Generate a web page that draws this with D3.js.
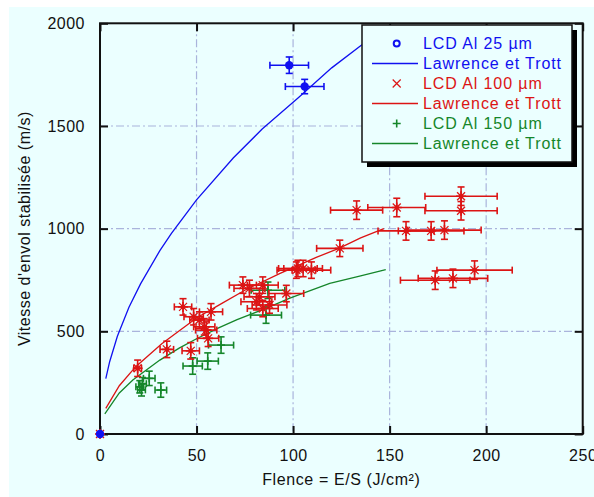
<!DOCTYPE html>
<html><head><meta charset="utf-8">
<script src="https://cdn.jsdelivr.net/npm/d3@7"></script>
<style>
body{margin:0;background:#fff}
svg{display:block}
text{font-family:"Liberation Sans",Arial,Helvetica,sans-serif}
</style>
</head><body>
<svg id="chart" width="594" height="497"></svg>
<script>
// ---- data ----
const xTicks = [0, 50, 100, 150, 200, 250];
const yTicks = [0, 500, 1000, 1500, 2000];
const xGrid = [50, 100, 150, 200];
const yGrid = [500, 1000, 1500];

// measured points: [fluence, velocity, xErr, yErr]
const bluePoints = [[0,0,0,0],[98,1796,10,40],[106,1692,10,35]];
const redPoints = [
  [0,0,0,0],[19.5,320,2,40],[34.6,412,3.5,40],[43,619,4.5,40],[47,405,4.5,40],
  [48.5,571,5,40],[51.5,555,5,40],[54,522,5.5,40],[55,506,5.5,40],[56,466,5.5,40],
  [57.5,595,6,40],[74,725,7,40],[77.4,709,8,40],[84.3,725,8,40],[81,644,8,40],
  [87.8,628,9,40],[84.3,611,8,40],[96.5,684,9,40],[82.6,668,8,40],[101.7,798,10,40],
  [102.5,806,10,40],[105.2,806,10,40],[109.5,798,10,40],[124.2,904,12,40],
  [132.9,1090,13.5,45],[153.7,1103,15,45],[187,1158,18.7,45],[187,1087,18.7,45],
  [158.5,989,14.5,45],[171.5,989,17,45],[178.4,993,19,45],
  [173.6,749,18,45],[182.8,758,18,45],[194,798,19.5,45]
];
const greenPoints = [
  [0,0,0,0],[20.6,230,2,30],[21.5,215,2,30],[22,245,2,30],[25.5,271,3,35],
  [31.5,214,3,35],[48,331,5,40],[55.8,355,5.5,40],[62.7,433,6.5,40],
  [86,579,8,40],[87,700,8.7,40]
];

// Lawrence et Trott model curves
const blueCurveX = [3,5,9,15,21,31,37,50,69,84,103,120,135,146];
const blueCurveY = [270,352,476,617,731,893,977,1140,1344,1485,1640,1783,1891,1965];
const redCurveX = [3,10,18.5,32,50,62,75,93,112,124,135,147];
const redCurveY = [125,235,328,440,565,630,700,781,860,905,955,1000];
const greenCurveX = [2.5,10,17,31,41,50,62,71,86,98,119,135,148];
const greenCurveY = [98,200,263,360,418,464,519,557,612,660,733,770,800];

const legendLabels = ["LCD Al 25 µm","Lawrence et Trott","LCD Al 100 µm","Lawrence et Trott","LCD Al 150 µm","Lawrence et Trott"];

// ---- drawing ----
const BLUE = "#1010f0", RED = "#dc1414", GREEN = "#15862a";
const svg = d3.select("#chart");
svg.append("rect").attr("x",9).attr("y",7).attr("width",585).attr("height",490).attr("fill","#ebffff");

const L = 100, R = 582.7, T = 23.3, B = 434;
const x = d3.scaleLinear().domain([0,250]).range([L,R]);
const y = d3.scaleLinear().domain([0,2000]).range([B,T]);

// grid
const gridStyle = s => s.attr("stroke","#aab4dc").attr("stroke-width",1.2).attr("stroke-dasharray","8,3,2,3");
svg.append("g").selectAll("line").data(xGrid).join("line")
  .attr("x1",d=>x(d)).attr("x2",d=>x(d)).attr("y1",T).attr("y2",B).call(gridStyle);
svg.append("g").selectAll("line").data(yGrid).join("line")
  .attr("y1",d=>y(d)).attr("y2",d=>y(d)).attr("x1",L).attr("x2",R).call(gridStyle);

// axes
const fontSize = "16px";
const gx = svg.append("g").attr("transform",`translate(0,${B})`)
  .call(d3.axisBottom(x).tickValues(xTicks).tickSize(-8).tickPadding(16).tickFormat(d3.format("d")));
const gy = svg.append("g").attr("transform",`translate(${L},0)`)
  .call(d3.axisLeft(y).tickValues(yTicks).tickSize(-8).tickPadding(15).tickFormat(d3.format("d")));
const gt = svg.append("g").attr("transform",`translate(0,${T})`)
  .call(d3.axisTop(x).tickValues(xTicks).tickSize(-8).tickFormat(""));
const gr = svg.append("g").attr("transform",`translate(${R},0)`)
  .call(d3.axisRight(y).tickValues(yTicks).tickSize(-8).tickFormat(""));
[gx,gy,gt,gr].forEach(g=>{
  g.select(".domain").remove();
  g.selectAll(".tick line").attr("stroke","#111").attr("stroke-width",2);
  g.selectAll("text").attr("font-size",fontSize).attr("fill","#111")
    .attr("font-family","'Liberation Sans',Arial,sans-serif").style("letter-spacing","0.5px");
});

// frame
svg.append("rect").attr("x",L).attr("y",T).attr("width",R-L).attr("height",B-T)
  .attr("fill","none").attr("stroke","#111").attr("stroke-width",2);

// axis titles
svg.append("text").attr("x",(L+R)/2).attr("y",485).attr("text-anchor","middle")
  .attr("font-size",fontSize).attr("fill","#111").style("letter-spacing","0.6px")
  .text("Flence = E/S (J/cm²)");
svg.append("text").attr("transform",`translate(30,${(T+B)/2}) rotate(-90)`).attr("text-anchor","middle")
  .attr("font-size",fontSize).attr("fill","#111").style("letter-spacing","0.5px")
  .text("Vitesse d'envol stabilisée (m/s)");

// curves
const line = d3.line().x(d=>x(d[0])).y(d=>y(d[1]));
function drawCurve(xs, ys, color){
  svg.append("path").datum(xs.map((v,i)=>[v,ys[i]])).attr("d",line)
    .attr("fill","none").attr("stroke",color).attr("stroke-width",1.3);
}
drawCurve(blueCurveX, blueCurveY, BLUE);
drawCurve(redCurveX, redCurveY, RED);
drawCurve(greenCurveX, greenCurveY, GREEN);

// error bars + markers
function drawPoints(pts, color, marker){
  const g = svg.append("g").attr("stroke",color).attr("fill",color).attr("stroke-width",1.6);
  pts.forEach(p=>{
    const cx = x(p[0]), cy = y(p[1]);
    if(p[2]>0){
      const x0 = x(p[0]-p[2]), x1 = x(p[0]+p[2]);
      g.append("line").attr("x1",x0).attr("x2",x1).attr("y1",cy).attr("y2",cy);
      g.append("line").attr("x1",x0).attr("x2",x0).attr("y1",cy-3.5).attr("y2",cy+3.5);
      g.append("line").attr("x1",x1).attr("x2",x1).attr("y1",cy-3.5).attr("y2",cy+3.5);
    }
    if(p[3]>0){
      const y0 = y(p[1]-p[3]), y1 = y(p[1]+p[3]);
      g.append("line").attr("y1",y0).attr("y2",y1).attr("x1",cx).attr("x2",cx);
      g.append("line").attr("y1",y0).attr("y2",y0).attr("x1",cx-3.5).attr("x2",cx+3.5);
      g.append("line").attr("y1",y1).attr("y2",y1).attr("x1",cx-3.5).attr("x2",cx+3.5);
    }
    marker(g, cx, cy);
  });
}
const circleMarker = (g,cx,cy)=>{ g.append("circle").attr("cx",cx).attr("cy",cy).attr("r",4.2).attr("stroke","none"); };
const starMarker = (g,cx,cy)=>{
  const s=4;
  g.append("line").attr("x1",cx-s).attr("x2",cx+s).attr("y1",cy-s).attr("y2",cy+s).attr("stroke-width",1.2);
  g.append("line").attr("x1",cx-s).attr("x2",cx+s).attr("y1",cy+s).attr("y2",cy-s).attr("stroke-width",1.2);
  g.append("line").attr("x1",cx-5).attr("x2",cx+5).attr("y1",cy).attr("y2",cy);
  g.append("line").attr("x1",cx).attr("x2",cx).attr("y1",cy-5).attr("y2",cy+5);
  g.append("rect").attr("x",cx-2).attr("y",cy-2).attr("width",4).attr("height",4).attr("stroke","none");
};
const plusMarker = (g,cx,cy)=>{
  g.append("line").attr("x1",cx-4).attr("x2",cx+4).attr("y1",cy).attr("y2",cy);
  g.append("line").attr("x1",cx).attr("x2",cx).attr("y1",cy-4).attr("y2",cy+4);
};
drawPoints(greenPoints, GREEN, plusMarker);
drawPoints(redPoints, RED, starMarker);
drawPoints(bluePoints, BLUE, circleMarker);

// legend
const lg = svg.append("g");
const lx = 362, ly = 25, lw = 210, lh = 137;
lg.append("rect").attr("x",lx+5).attr("y",ly+5).attr("width",lw).attr("height",lh).attr("fill","#000");
lg.append("rect").attr("x",lx).attr("y",ly).attr("width",lw).attr("height",lh)
  .attr("fill","#ebffff").attr("stroke","#111").attr("stroke-width",1.5);
const legColors = [BLUE,BLUE,RED,RED,GREEN,GREEN];
legendLabels.forEach((t,i)=>{
  const cy = 43.5 + i*20, c = legColors[i], sx = 396.7;
  if(i%2===1){
    lg.append("line").attr("x1",372).attr("x2",418).attr("y1",cy).attr("y2",cy).attr("stroke",c).attr("stroke-width",1.4);
  } else if(i===0){
    lg.append("circle").attr("cx",sx).attr("cy",cy).attr("r",3).attr("fill","none").attr("stroke",c).attr("stroke-width",2);
  } else if(i===2){
    lg.append("path").attr("d",`M${sx-4},${cy-4}L${sx+4},${cy+4}M${sx-4},${cy+4}L${sx+4},${cy-4}`).attr("stroke",c).attr("stroke-width",1.2);
  } else {
    lg.append("path").attr("d",`M${sx-4},${cy}L${sx+4},${cy}M${sx},${cy-4}L${sx},${cy+4}`).attr("stroke",c).attr("stroke-width",1.6);
  }
  lg.append("text").attr("x",423).attr("y",cy+5.5).attr("font-size",fontSize).attr("fill",c)
    .style("letter-spacing","0.9px").text(t);
});
</script>
</body></html>
